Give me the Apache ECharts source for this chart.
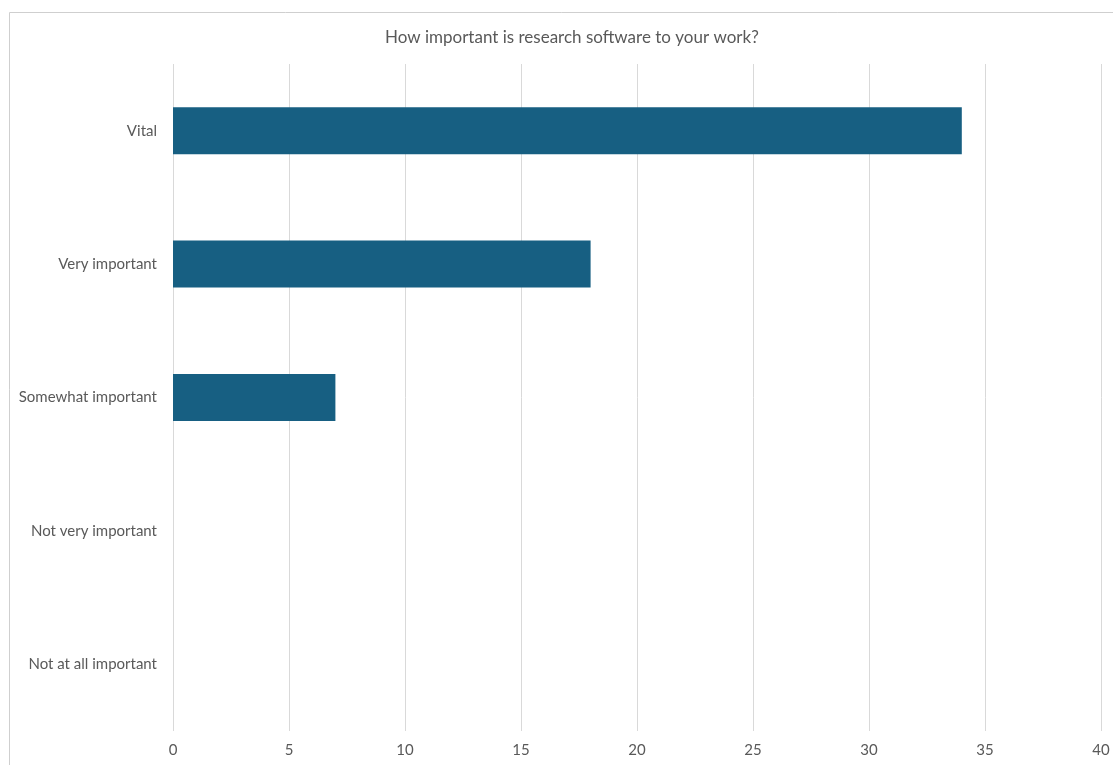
<!DOCTYPE html>
<html>
<head>
<meta charset="utf-8">
<script src="https://cdn.jsdelivr.net/npm/echarts@6/dist/echarts.min.js"></script>
<style>
  html, body { margin: 0; padding: 0; background: #fff; }
  #chart { width: 1113px; height: 765px; }
</style>
</head>
<body>
<div id="chart"></div>
<script>
// Survey responses: how important research software is to respondents' work
const categories = ['Vital', 'Very important', 'Somewhat important', 'Not very important', 'Not at all important'];
const counts = [34, 18, 7, 0, 0];
const xTicks = [0, 5, 10, 15, 20, 25, 30, 35, 40];

const chart = echarts.init(document.getElementById('chart'), null, { renderer: 'canvas' });
const font = 'Lato, "Open Sans", sans-serif';

chart.setOption({
  animation: false,
  backgroundColor: '#ffffff',
  title: {
    text: 'How important is research software to your work?',
    left: 380,
    top: 24,
    textStyle: { fontFamily: font, fontSize: 17, fontWeight: 'normal', color: '#595959' }
  },
  graphic: [{
    type: 'rect',
    shape: { x: 9.5, y: 12.5, width: 1200, height: 800 },
    style: { fill: 'none', stroke: '#cfcfcf', lineWidth: 1 },
    silent: true
  }],
  grid: { left: 173, right: 12, top: 64, bottom: 34, containLabel: false },
  xAxis: {
    type: 'value',
    min: xTicks[0],
    max: xTicks[xTicks.length - 1],
    interval: 5,
    axisLine: { show: false },
    axisTick: { show: false },
    splitLine: { show: true, lineStyle: { color: '#d9d9d9', width: 1 } },
    axisLabel: { fontFamily: font, fontSize: 15, color: '#595959', margin: 12 }
  },
  yAxis: {
    type: 'category',
    data: categories,
    inverse: true,
    axisLine: { show: false },
    axisTick: { show: false },
    axisLabel: { fontFamily: font, fontSize: 15, color: '#595959', margin: 16 }
  },
  series: [{
    type: 'bar',
    data: counts,
    barWidth: 47,
    itemStyle: { color: '#175f82' }
  }]
});
</script>
</body>
</html>
